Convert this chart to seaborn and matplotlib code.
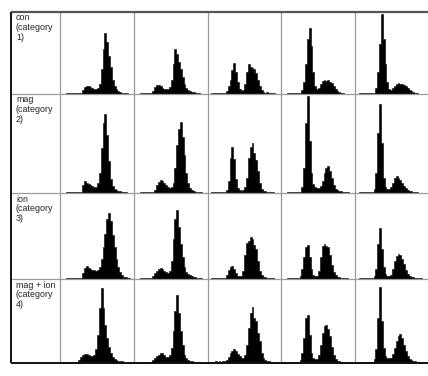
import matplotlib
matplotlib.use("Agg")
import matplotlib.pyplot as plt
from matplotlib.lines import Line2D
import numpy as np
import pandas as pd
import seaborn as sns

sns.set_theme(style="white")
plt.rcParams['font.family'] = ['Liberation Sans', 'DejaVu Sans']

# ---------------- data ----------------
row_labels = ["con\n(category\n1)", "mag\n(category\n2)", "ion\n(category\n3)", "mag + ion\n(category\n4)"]
n_bins = 40
bins = list(range(n_bins))

# per-row full-scale count (top of each row's panels)
row_scale = [82, 99, 86, 84]

con_hists = [
    [0,0,0, 1,1,1,1,1,1,1,1,1, 4,7,8,8,7,6,5,5,6, 10,25,45,61,52,38,27,14,8,5,3, 2,1,1,1,1, 0,0,0],
    [0,0,0, 1,1,1,1,1,1,1, 3,7,9,9,8,6,5,5,5,7,14,30,45,40,32,25,17,10,6,4,3, 2,2,1,1,1, 0,0,0,0],
    [0,0, 1,1,1,1,1,1,1,1, 3,8,14,24,31,22,12,5,3,4,10,22,30,27,26,25,21,14,8,4,2, 1,2,1,1,1,1, 0,0,0],
    [0,0,0, 1,1,1,1,1,1,1,1, 4,12,30,55,66,48,22,8,5,6,10,13,14,13,14,12,11,8,5,3,2, 1,1, 0,0,0,0,0,0],
    [0,0, 1,1,1,1,1,1,1,1,1, 6,22,50,80,55,30,12,5,4,6,8,10,11,10,10,9,8,6,4,3,2, 1,1, 0,0,0,0,0,0],
]
mag_hists = [
    [0,0,0, 1,1,1,1,1,1,1,1,1, 8,12,10,9,8,7,6,6,10,20,45,70,79,58,32,14,7,4, 3,2,2,1,1,1, 0,0,0,0],
    [0,0,0, 1,1,1,1,1,1,1,1, 3,8,11,13,12,10,8,6,5,6,10,25,48,64,71,56,38,20,10,5,3, 2,1,1,1,1, 0,0,0],
    [0,0, 1,1,1,1,1,1,1,1, 3,12,35,46,34,14,5,3,2,3,6,15,35,46,50,40,33,22,10,4, 2,2,1,1,1,1, 0,0,0,0],
    [0,0,0, 1,1,1,1,1,1,1,1, 6,25,70,97,52,20,9,6,5,5,7,12,20,25,27,22,15,8,4,3, 2,2,1,1,1,1, 0,0,0],
    [0,0, 1,1,1,1,1,1,1,1, 4,20,60,89,50,15,6,4,4,6,10,15,17,15,13,10,7,5,3, 2,2,1,1,1, 0,0,0,0,0,0],
]
ion_hists = [
    [0,0,0, 1,1,1,1,1,1,1,1,1, 6,11,13,11,10,9,9,8,9,12,20,32,45,60,66,58,44,32,20,12,7,4, 2,2,1,1, 0,0],
    [0,0,0, 1,1,1,1,1,1,1, 3,6,8,10,11,10,8,7,6,8,18,40,60,69,52,35,22,12,7,5,4, 3,2,2,1,1,1, 0,0,0],
    [0,0, 1,1,1,1,1,1,1,1, 4,9,12,13,10,6,3,3,3,8,24,36,38,42,40,34,30,18,8,4, 2,2,1,1,1,1, 0,0,0,0],
    [0,0,0, 1,1,1,1,1,1,1, 3,10,22,32,34,22,10,4,3,3,8,22,33,35,33,32,24,14,7,4, 2,2,1,1,1,1, 0,0,0,0],
    [0,0, 1,1,1,1,1,1,1,1, 3,10,35,51,30,12,5,3,3,4,10,18,23,25,24,20,15,9,5,3, 2,2,1,1,1,1, 0,0,0,0],
]
magion_hists = [
    [0,0,0, 1,1,1,1,1,1,1, 3,6,8,9,9,8,7,7,8,14,28,55,75,55,38,25,16,10,6,4,3, 2,2,2,1,1,1,1, 0,0],
    [0,0,0, 1,1,1,1,1,1,1, 3,5,7,8,10,10,8,6,6,8,15,32,52,68,50,32,18,8,5,3, 2,2,1,1,1,1, 0,0,0,0],
    [0,0, 1,1,2,1,2,1,2,2, 3,6,10,12,14,12,9,7,5,5,8,18,35,50,56,45,42,30,22,10,5, 3,2,2,1,1,1,1, 0,0],
    [0,0,0, 1,1,1,1,1,1,1, 3,10,25,45,48,28,10,5,4,4,8,18,30,37,38,34,27,16,8,4, 2,2,1,1,1,1, 0,0,0,0],
    [0,0, 1,1,1,1,1,1,1,1, 4,14,45,76,42,15,7,5,5,5,9,15,22,27,29,25,18,12,7,4, 3,2,2,1,1,1, 0,0,0,0],
]
all_rows = [con_hists, mag_hists, ion_hists, magion_hists]

# ---------------- layout (pixels) ----------------
W, H = 428, 376
col_edges = [60, 134, 207.5, 281, 355, 429]
row_edges = [12, 94, 193, 279, 363]
label_x = 16

fig = plt.figure(figsize=(W / 100, H / 100), dpi=100)
fig.patch.set_facecolor("white")

def fx(x):
    return x / W

def fy(y):
    return 1 - y / H

for r, row in enumerate(all_rows):
    y0, y1 = row_edges[r], row_edges[r + 1]
    for c, hist in enumerate(row):
        x0, x1 = col_edges[c], col_edges[c + 1]
        ax = fig.add_axes([fx(x0), fy(y1), (x1 - x0) / W, (y1 - y0) / H])
        df = pd.DataFrame({"bin": bins, "count": hist})
        sns.histplot(data=df, x="bin", weights="count", discrete=True,
                     element="step", fill=True, color="black", alpha=1,
                     linewidth=0.4, ax=ax)
        ax.set_xlim(-0.5, n_bins - 0.5)
        ax.set_ylim(0, row_scale[r])
        ax.set_axis_off()
    fig.text(fx(label_x), fy(y0 + 1.5), row_labels[r], ha="left", va="top",
             fontsize=6.4, linespacing=1.08, color="#222222")

# grid lines
def hline(y, color, lw):
    fig.add_artist(Line2D([fx(11), fx(430)], [fy(y), fy(y)], color=color, lw=lw,
                          transform=fig.transFigure, solid_capstyle="butt"))

def vline(x, color, lw):
    fig.add_artist(Line2D([fx(x), fx(x)], [fy(12), fy(363)], color=color, lw=lw,
                          transform=fig.transFigure, solid_capstyle="butt"))

for y in row_edges[1:-1]:
    hline(y, "#9a9a9a", 0.9)
for x in col_edges[:-1]:
    vline(x, "#9a9a9a", 0.9)
hline(12, "#555555", 1.6)
hline(363, "#111111", 1.4)
vline(11, "#111111", 1.4)

fig.savefig("out.png", dpi=100, facecolor="white")
